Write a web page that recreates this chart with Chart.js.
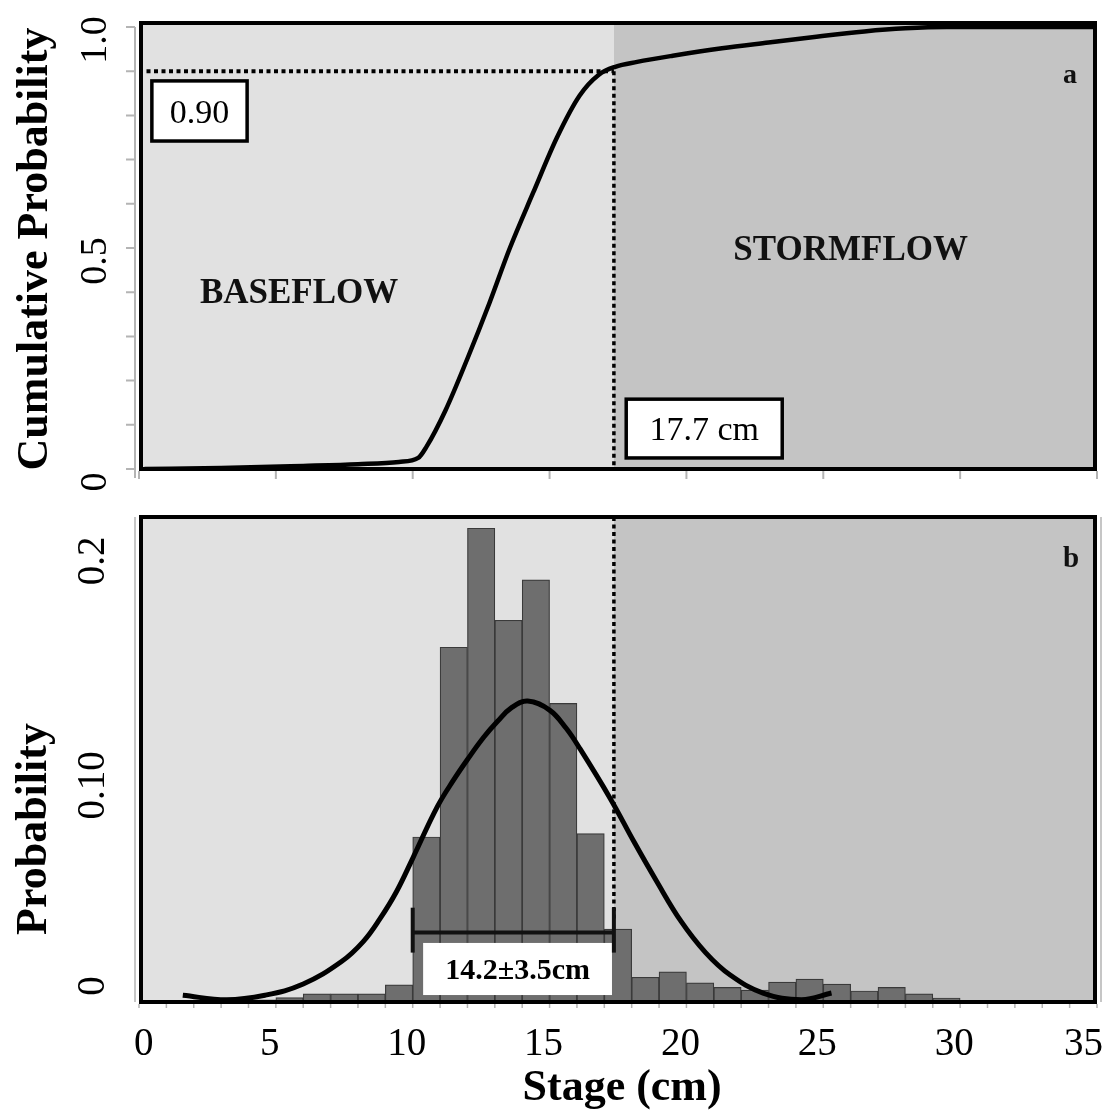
<!DOCTYPE html>
<html>
<head>
<meta charset="utf-8">
<script src="https://cdn.jsdelivr.net/npm/chart.js@4.4.0/dist/chart.umd.min.js"></script>
<style>
body { margin: 0; background: #fff; }
#wrap { position: relative; width: 1111px; height: 1111px; }
.panel { position: absolute; left: 0; width: 1111px; }
</style>
</head>
<body>
<div id="wrap">
  <div class="panel" style="top:0;height:500px"><canvas id="cdfChart"></canvas></div>
  <div class="panel" style="top:500px;height:611px"><canvas id="histChart"></canvas></div>
</div>
<script>
// DATA

// panel a: cumulative probability of stage
const cdfStage = [0.2, 3, 6, 8, 9.5, 10.2, 10.5, 11.2, 12.0, 12.8, 13.55, 14.4, 15.27, 16.1, 16.8, 17.4, 18.2, 19.5, 21.3, 23, 24.6, 26.5, 28, 29.5, 35];
const cdfProb = [0, 0.002, 0.007, 0.011, 0.016, 0.025, 0.05, 0.133, 0.25, 0.375, 0.5, 0.625, 0.75, 0.845, 0.892, 0.91, 0.921, 0.935, 0.952, 0.965, 0.977, 0.99, 0.997, 1.0, 1.0];

// panel b: histogram (1 cm bins) and fitted curve
const binCenters = [4.5, 5.5, 6.5, 7.5, 8.5, 9.5, 10.5, 11.5, 12.5, 13.5, 14.5, 15.5, 16.5, 17.5, 18.5, 19.5, 20.5, 21.5, 22.5, 23.5, 24.5, 25.5, 26.5, 27.5, 28.5, 29.5, 30.5, 31.5];
const binProb = [0.001, 0.002, 0.0036, 0.0036, 0.0036, 0.0076, 0.0735, 0.158, 0.211, 0.170, 0.188, 0.133, 0.075, 0.0325, 0.011, 0.0134, 0.0085, 0.0065, 0.0053, 0.0089, 0.0102, 0.008, 0.0049, 0.0065, 0.0036, 0.0018, 0.0007, 0.0007];
const fitStage = [1.6, 3.2, 4.6, 6.0, 7.4, 8.2, 8.8, 9.4, 10.0, 10.9, 11.5, 12.0, 12.6, 13.1, 13.6, 14.2, 15.0, 15.6, 16.1, 17.2, 18.1, 18.9, 19.8, 20.7, 21.6, 22.8, 24.2, 25.3];
const fitProb = [0.003, 0.001, 0.003, 0.008, 0.018, 0.027, 0.037, 0.049, 0.064, 0.087, 0.099, 0.108, 0.118, 0.125, 0.131, 0.134, 0.130, 0.122, 0.113, 0.091, 0.071, 0.054, 0.036, 0.022, 0.012, 0.004, 0.001, 0.004];

// axes
const xTicks = [0, 5, 10, 15, 20, 25, 30, 35];
const cdfTicks = [0, 0.5, 1.0];
const cdfTickLabels = ["0", "0.5", "1.0"];
const probTicks = [0, 0.1, 0.2];
const probTickLabels = ["0", "0.10", "0.2"];

// split between baseflow and stormflow, and the mean ± sd bar
const splitStage = 17.35;
const splitProb = 0.9;
const sdLow = 10.0;
const sdHigh = 17.35;
const sdLevel = 0.031;

const serif = '"Liberation Serif", "DejaVu Serif", serif';
const axisGray = "#b4b4b4";

// HELPERS

function vText(ctx, text, x, y, font) {
	ctx.save();
	ctx.translate(x, y);
	ctx.rotate(-Math.PI / 2);
	ctx.font = font;
	ctx.fillStyle = "#000";
	ctx.textAlign = "center";
	ctx.textBaseline = "alphabetic";
	ctx.fillText(text, 0, 0);
	ctx.restore();
}

function boxLabel(ctx, chart, x0, x1, y0, y1, text, font, size, stroke) {
	const { x, y } = chart.scales;
	const l = x.getPixelForValue(x0), r = x.getPixelForValue(x1);
	const t = y.getPixelForValue(y1), b = y.getPixelForValue(y0);
	ctx.save();
	ctx.fillStyle = "#fff";
	ctx.fillRect(l, t, r - l, b - t);
	if (stroke) {
		ctx.strokeStyle = "#000";
		ctx.lineWidth = 3.5;
		ctx.strokeRect(l, t, r - l, b - t);
	}
	ctx.fillStyle = "#000";
	ctx.font = font;
	ctx.textAlign = "center";
	ctx.textBaseline = "alphabetic";
	ctx.fillText(text, (l + r) / 2, (t + b) / 2 + size * 0.35);
	ctx.restore();
}

function shading(chart) {
	const { ctx, chartArea: a, scales: { x } } = chart;
	const sx = x.getPixelForValue(splitStage);
	ctx.save();
	ctx.fillStyle = "#e1e1e1";
	ctx.fillRect(a.left, a.top, sx - a.left, a.bottom - a.top);
	ctx.fillStyle = "#c4c4c4";
	ctx.fillRect(sx, a.top, a.right - sx, a.bottom - a.top);
	ctx.restore();
}

function frame(chart) {
	const { ctx, chartArea: a } = chart;
	ctx.save();
	ctx.strokeStyle = "#000";
	ctx.lineWidth = 4;
	ctx.strokeRect(a.left + 2, a.top, a.right - a.left - 4, a.bottom - a.top);
	ctx.restore();
}

function xTickLabels(chart) {
	const { ctx, chartArea: a, scales: { x } } = chart;
	ctx.save();
	ctx.font = "39px " + serif;
	ctx.fillStyle = "#000";
	ctx.textAlign = "center";
	xTicks.forEach((v) => {
		const label = String(v);
		const half = ctx.measureText(label).width / 2;
		let cx = x.getPixelForValue(v) - 6;
		cx = Math.max(cx, a.left - 5 + half);
		cx = Math.min(cx, a.right + 6 - half);
		ctx.fillText(label, cx, a.bottom + 53);
	});
	ctx.restore();
}

const common = {
	responsive: true,
	maintainAspectRatio: false,
	animation: false,
	events: [],
	plugins: { legend: { display: false }, tooltip: { enabled: false } },
};

// PANEL A

const cdfPlugin = {
	id: "cdfDecor",
	beforeDatasetsDraw: shading,
	afterDatasetsDraw(chart) {
		frame(chart);
	},
	afterDraw(chart) {
		const { ctx, chartArea: a, scales: { x, y } } = chart;
		ctx.save();
		// gray axis with ticks
		ctx.strokeStyle = axisGray;
		ctx.lineWidth = 2;
		ctx.beginPath();
		ctx.moveTo(a.left - 4, y.getPixelForValue(1.0));
		ctx.lineTo(a.left - 4, a.bottom + 9);
		for (let i = 0; i <= 10; i++) {
			const py = y.getPixelForValue(i / 10);
			ctx.moveTo(a.left - 13, py);
			ctx.lineTo(a.left - 4, py);
		}
		xTicks.forEach((v) => {
			const px = x.getPixelForValue(v);
			ctx.moveTo(px, a.bottom + 2);
			ctx.lineTo(px, a.bottom + 10);
		});
		ctx.stroke();
		ctx.restore();

		cdfTicks.forEach((v, i) => vText(ctx, cdfTickLabels[i], a.left - 33, y.getPixelForValue(v) + 13, "38px " + serif));
		vText(ctx, "Cumulative Probability", 47, (a.top + a.bottom) / 2 + 3, "bold 44px " + serif);

		boxLabel(ctx, chart, 0.47, 3.95, 0.742, 0.878, "0.90", "34px " + serif, 34, true);
		boxLabel(ctx, chart, 17.8, 23.5, 0.025, 0.158, "17.7 cm", "34px " + serif, 34, true);

		ctx.save();
		ctx.fillStyle = "#111";
		ctx.textAlign = "center";
		ctx.font = "bold 35px " + serif;
		ctx.fillText("BASEFLOW", x.getPixelForValue(5.85), y.getPixelForValue(0.376));
		ctx.fillText("STORMFLOW", x.getPixelForValue(26.0), y.getPixelForValue(0.473));
		ctx.font = "bold 28px " + serif;
		ctx.fillText("a", a.right - 27, a.top + 60);
		ctx.restore();
	},
};

new Chart(document.getElementById("cdfChart"), {
	type: "line",
	data: {
		datasets: [
			{
				data: cdfStage.map((s, i) => ({ x: s, y: cdfProb[i] })),
				borderColor: "#000",
				borderWidth: 4.5,
				pointRadius: 0,
				cubicInterpolationMode: "monotone",
				order: 0,
			},
			{
				data: [{ x: 0, y: splitProb }, { x: splitStage, y: splitProb }],
				borderColor: "#000",
				borderWidth: 4,
				borderDash: [4, 3.5],
				pointRadius: 0,
				order: 2,
			},
			{
				data: [{ x: splitStage, y: splitProb }, { x: splitStage, y: 0 }],
				borderColor: "#000",
				borderWidth: 3.5,
				borderDash: [4, 3.5],
				pointRadius: 0,
				order: 2,
			},
		],
	},
	options: {
		...common,
		layout: { padding: { left: 139, right: 14, top: 23, bottom: 31 } },
		scales: {
			x: { type: "linear", min: 0, max: 35, display: false },
			y: { type: "linear", min: 0, max: 1.009, display: false },
		},
	},
	plugins: [cdfPlugin],
});

// PANEL B

const histPlugin = {
	id: "histDecor",
	beforeDatasetsDraw: shading,
	afterDatasetDraw(chart, args) {
		// white label box sits over the bars, under the curve
		if (args.index === 5) {
			boxLabel(chart.ctx, chart, 10.38, 17.28, 0.0031, 0.0263, "14.2±3.5cm", "bold 30px " + serif, 30, false);
		}
	},
	afterDatasetsDraw(chart) {
		frame(chart);
	},
	afterDraw(chart) {
		const { ctx, chartArea: a, scales: { x, y } } = chart;
		ctx.save();
		ctx.strokeStyle = axisGray;
		ctx.lineWidth = 1.5;
		ctx.beginPath();
		ctx.moveTo(a.left - 4, a.top);
		ctx.lineTo(a.left - 4, a.bottom);
		ctx.moveTo(a.right + 4, a.top);
		ctx.lineTo(a.right + 4, a.bottom);
		for (let v = 0; v <= 35; v++) {
			const px = x.getPixelForValue(v);
			ctx.moveTo(px, a.bottom + 2);
			ctx.lineTo(px, a.bottom + 6);
		}
		ctx.stroke();
		ctx.restore();

		probTicks.forEach((v, i) => {
			let py = y.getPixelForValue(v) + 8;
			py = Math.min(py, a.bottom - 16);
			vText(ctx, probTickLabels[i], a.left - 35, py, "39px " + serif);
		});
		vText(ctx, "Probability", 46, 329, "bold 44px " + serif);
		xTickLabels(chart);

		ctx.save();
		ctx.fillStyle = "#000";
		ctx.textAlign = "center";
		ctx.font = "bold 44px " + serif;
		ctx.fillText("Stage (cm)", x.getPixelForValue(17.65), a.bottom + 98);
		ctx.font = "bold 29px " + serif;
		ctx.fillStyle = "#111";
		ctx.fillText("b", a.right - 26, a.top + 50);
		ctx.restore();
	},
};

const lineStyle = { borderColor: "#000", pointRadius: 0, type: "line" };

new Chart(document.getElementById("histChart"), {
	type: "bar",
	data: {
		datasets: [
			{
				...lineStyle,
				data: fitStage.map((s, i) => ({ x: s, y: fitProb[i] })),
				borderWidth: 5,
				tension: 0.4,
				order: 0,
			},
			{
				...lineStyle,
				data: [{ x: sdLow, y: sdLevel }, { x: sdHigh, y: sdLevel }],
				borderColor: "#111",
				borderWidth: 4,
				order: 1,
			},
			{
				...lineStyle,
				data: [{ x: sdLow, y: sdLevel - 0.009 }, { x: sdLow, y: sdLevel + 0.011 }],
				borderColor: "#111",
				borderWidth: 4,
				order: 1,
			},
			{
				...lineStyle,
				data: [{ x: sdHigh, y: sdLevel - 0.009 }, { x: sdHigh, y: sdLevel + 0.011 }],
				borderColor: "#111",
				borderWidth: 4,
				order: 1,
			},
			{
				...lineStyle,
				data: [{ x: splitStage, y: 0.216 }, { x: splitStage, y: sdLevel + 0.005 }],
				borderWidth: 3.5,
				borderDash: [4, 3.5],
				order: 2,
			},
			{
				type: "bar",
				data: binCenters.map((s, i) => ({ x: s, y: binProb[i] })),
				backgroundColor: "#6e6e6e",
				borderColor: "#3a3a3a",
				borderWidth: 1.2,
				barPercentage: 1,
				categoryPercentage: 1,
				order: 5,
			},
		],
	},
	options: {
		...common,
		layout: { padding: { left: 139, right: 14, top: 17, bottom: 109 } },
		scales: {
			x: { type: "linear", min: 0, max: 35, offset: false, display: false },
			y: { type: "linear", min: 0, max: 0.216, display: false },
		},
	},
	plugins: [histPlugin],
});
</script>
</body>
</html>
